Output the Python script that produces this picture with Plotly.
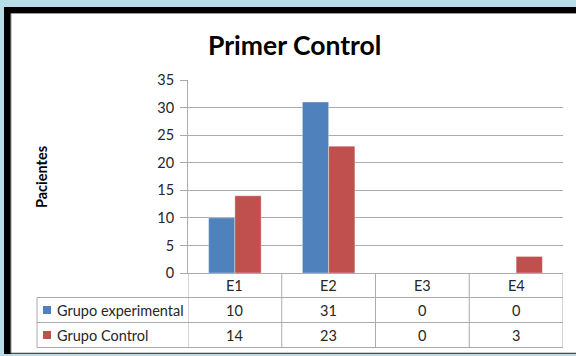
import plotly.graph_objects as go

# Data
categories = ["E1", "E2", "E3", "E4"]
series_names = ["Grupo experimental", "Grupo Control"]
experimental = [10, 31, 0, 0]
control = [14, 23, 0, 3]
series_values = [experimental, control]
series_colors = ["#4F81BD", "#C0504D"]
y_ticks = [0, 5, 10, 15, 20, 25, 30, 35]

FIG_W, FIG_H = 576, 356
L, R, T, B = 188, 13, 80, 83
PW, PH = FIG_W - L - R, FIG_H - T - B
FONT = "Lato"
GRID = "#ABABAB"
TXT = "#262626"
SMALL = 14.5


def px(x):
    """Pixel column -> paper x."""
    return (x - L) / PW


def py(y):
    """Pixel row -> paper y."""
    return (FIG_H - B - y) / PH


fig = go.Figure()
for name, vals, col in zip(series_names, series_values, series_colors):
    fig.add_trace(go.Bar(
        x=categories, y=vals, name=name,
        marker=dict(color=col, line=dict(color="rgba(255,255,255,0.35)", width=1)),
        hoverinfo="x+y+name",
    ))

shapes = []
# outer frame: black edge on the left/top, thin grey edge at the bottom
shapes.append(dict(type="rect", xref="paper", yref="paper", layer="below",
                   x0=px(4), x1=px(580), y0=py(354), y1=py(7),
                   fillcolor="black", line=dict(width=0)))
shapes.append(dict(type="rect", xref="paper", yref="paper", layer="below",
                   x0=px(11), x1=px(580), y0=py(353), y1=py(13.5),
                   fillcolor="white", line=dict(color="#9A9A9A", width=1)))

# data table grid
row_lines = [297.5, 322.5, 347.5]
for yl in row_lines:
    shapes.append(dict(type="line", xref="paper", yref="paper",
                       x0=px(37), x1=1, y0=py(yl), y1=py(yl),
                       line=dict(color=GRID, width=1)))
shapes.append(dict(type="line", xref="paper", yref="paper",
                   x0=px(37), x1=px(37), y0=py(297.5), y1=py(347.5),
                   line=dict(color=GRID, width=1)))
for i in range(len(categories) + 1):
    shapes.append(dict(type="line", xref="x", yref="paper",
                       x0=i - 0.5, x1=i - 0.5, y0=0, y1=py(347.5),
                       line=dict(color=GRID, width=1)))


def label(text, x, y, xref="paper", size=SMALL, color=TXT, xanchor="center", **kw):
    return dict(text=text, xref=xref, yref="paper", x=x, y=y, showarrow=False,
                xanchor=xanchor, yanchor="middle",
                font=dict(family=FONT, size=size, color=color), **kw)


annotations = []
# title and y-axis title
annotations.append(label("<b>Primer Control</b>", px(294), py(45), size=26.5, color="black"))
annotations.append(label("<b>Pacientes</b>", px(41), py(177), size=14.5, color="black",
                         textangle=-90))

# table header and values
for i, cat in enumerate(categories):
    annotations.append(label(cat, i, py(285.5), xref="x"))
row_centers = [310, 335]
for name, vals, col, yc in zip(series_names, series_values, series_colors, row_centers):
    for i, v in enumerate(vals):
        annotations.append(label(str(v), i, py(yc), xref="x"))
    annotations.append(label(name, px(55), py(yc), xanchor="left"))
    shapes.append(dict(type="rect", xref="paper", yref="paper",
                       x0=px(43), x1=px(51), y0=py(yc + 4), y1=py(yc - 4),
                       fillcolor=col, line=dict(width=0)))

fig.update_layout(
    width=FIG_W, height=FIG_H,
    margin=dict(l=L, r=R, t=T, b=B),
    paper_bgcolor="#B7DDE8",
    plot_bgcolor="white",
    barmode="group",
    bargap=0.44,
    bargroupgap=0,
    showlegend=False,
    font=dict(family=FONT, size=SMALL, color=TXT),
    xaxis=dict(range=[-0.5, 3.5], showticklabels=False, showgrid=False,
               showline=True, linecolor=GRID, linewidth=1, zeroline=False,
               fixedrange=True),
    yaxis=dict(range=[0, 35], tickvals=y_ticks, showgrid=True, gridcolor=GRID,
               gridwidth=1, showline=True, linecolor=GRID, linewidth=1,
               ticks="outside", ticklen=7, tickcolor=GRID, zeroline=False,
               ticklabelstandoff=3,
               tickfont=dict(family=FONT, size=SMALL, color=TXT), fixedrange=True),
    shapes=shapes,
    annotations=annotations,
)

fig.write_html("out.html")
